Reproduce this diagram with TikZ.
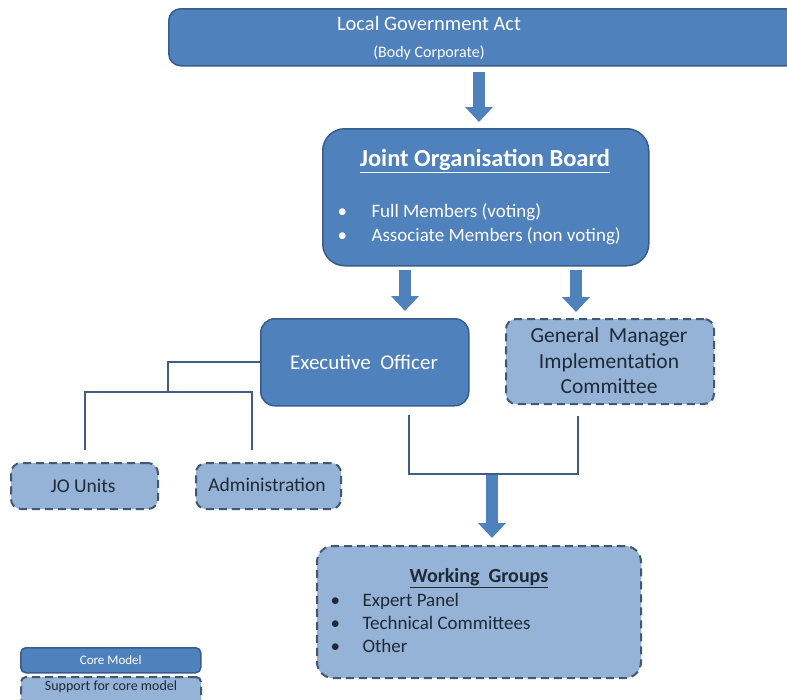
\documentclass[tikz,border=0pt]{standalone}
\usepackage{fontspec}
\setmainfont{Carlito}
\usetikzlibrary{arrows.meta,calc}
\definecolor{corefill}{HTML}{4F81BD}
\definecolor{coreline}{HTML}{385D8A}
\definecolor{supfill}{HTML}{95B3D7}
\definecolor{supline}{HTML}{3F5873}
\definecolor{suptext}{HTML}{1F2A36}
\definecolor{connline}{HTML}{3F5E82}
\tikzset{
  corebox/.style={draw=coreline, fill=corefill, line width=1.5pt, rounded corners=12pt, text=white, align=center},
  supbox/.style={draw=supline, fill=supfill, line width=2pt, dash pattern=on 8pt off 5pt, rounded corners=10pt, text=suptext, align=center},
  blockarrow/.style={draw=corefill, line width=12pt, -{Triangle[width=27pt,length=15pt]}},
  conn/.style={draw=connline, line width=2pt},
}
\begin{document}
\begin{tikzpicture}[x=1pt,y=-1pt]
\useasboundingbox (0,0) rectangle (787,699);
\begin{scope}
\clip (0,0) rectangle (787,699);
% top box
\node[corebox, minimum width=640pt, minimum height=57pt, anchor=north west, inner sep=0pt] (top) at (168,8) {};
\node[text=white, font=\fontsize{20.5}{24}\selectfont] (lga) at (429,23) {Local Government Act};
\node[text=white, font=\fontsize{16}{19}\selectfont] (bc) at (429,53) {(Body Corporate)};
% Joint board
\node[corebox, minimum width=326pt, minimum height=137pt, anchor=north west, inner sep=0pt, rounded corners=22pt] (job) at (322,128) {};
\node[text=white, font=\bfseries\fontsize{24.5}{28}\selectfont] (jobt) at (485,161) {\underline{Joint Organisation Board}};
\node[text=white, font=\fontsize{19}{24}\selectfont, anchor=west, align=left] (jobl) at (334,224) {%
  \makebox[34pt][l]{\textbullet}Full Members (voting)\\
  \makebox[34pt][l]{\textbullet}Associate Members (non voting)};
% Executive officer
\node[corebox, minimum width=208pt, minimum height=87pt, anchor=north west, inner sep=0pt, rounded corners=14pt] (eo) at (260,318) {};
\node[text=white, font=\fontsize{21}{25}\selectfont] (eot) at (364,362) {Executive\ \ Officer};
% GM box
\node[supbox, minimum width=208pt, minimum height=85pt, anchor=north west, inner sep=0pt] (gm) at (505,318) {};
\node[text=suptext, font=\fontsize{21.5}{25.5}\selectfont, align=center] (gmt) at (609,361) {General\ \ Manager\\Implementation\\Committee};
% JO units, admin
\node[supbox, minimum width=147pt, minimum height=46pt, anchor=north west, inner sep=0pt] (jou) at (10,462) {};
\node[text=suptext, font=\fontsize{19.5}{23}\selectfont] (jout) at (83,486) {JO Units};
\node[supbox, minimum width=145pt, minimum height=46pt, anchor=north west, inner sep=0pt] (adm) at (195,462) {};
\node[text=suptext, font=\fontsize{19.5}{23}\selectfont] (admt) at (267,485) {Administration};
% Working groups
\node[supbox, minimum width=324pt, minimum height=132pt, anchor=north west, inner sep=0pt, rounded corners=16pt] (wg) at (316,545) {};
\node[text=suptext, font=\bfseries\fontsize{20}{24}\selectfont] (wgt) at (479,578) {\underline{Working\ \ Groups}};
\node[text=suptext, font=\fontsize{19}{23}\selectfont, anchor=north west, align=left] (wgl) at (327,590) {%
  \makebox[32pt][l]{\textbullet}Expert Panel\\
  \makebox[32pt][l]{\textbullet}Technical Committees\\
  \makebox[32pt][l]{\textbullet}Other};
% Legend
\node[corebox, minimum width=180pt, minimum height=25pt, anchor=north west, inner sep=0pt, rounded corners=5pt, font=\fontsize{13}{15}\selectfont] (lcore) at (20,647) {Core Model};
\node[supbox, minimum width=180pt, minimum height=30pt, anchor=north west, inner sep=0pt, rounded corners=5pt, text height=10pt, text depth=14pt, font=\fontsize{14}{16}\selectfont] (lsup) at (20,676) {Support for core model};
% block arrows
\coordinate (a1s) at (479,72);
\coordinate (a1e) at (479,122);
\draw[blockarrow] (a1s) -- (a1e);
\coordinate (a2s) at (405,270);
\coordinate (a2e) at (405,311);
\draw[blockarrow] (a2s) -- (a2e);
\coordinate (a3s) at (576,270);
\coordinate (a3e) at (576,312);
\draw[blockarrow] (a3s) -- (a3e);
% EO to units
\coordinate (b1) at (168,362);
\coordinate (b2) at (168,392);
\coordinate (b3) at (85,392);
\coordinate (b4) at (252,392);
\draw[conn] (eo.west |- b1) -- (b1) -- (b2);
\draw[conn] (jou.north -| b3) ++(0,-12) -- (b3) -- (b4) -- ++(0,58);
% EO/GM to WG
\coordinate (c1) at (409,415);
\coordinate (c2) at (409,474);
\coordinate (c3) at (578,474);
\coordinate (c4) at (578,416);
\draw[conn] (c1) -- (c2) -- (c3) -- (c4);
\coordinate (d1) at (492,475);
\coordinate (d2) at (492,538);
\draw[blockarrow] (d1) -- (d2);
\end{scope}
\end{tikzpicture}
\end{document}
